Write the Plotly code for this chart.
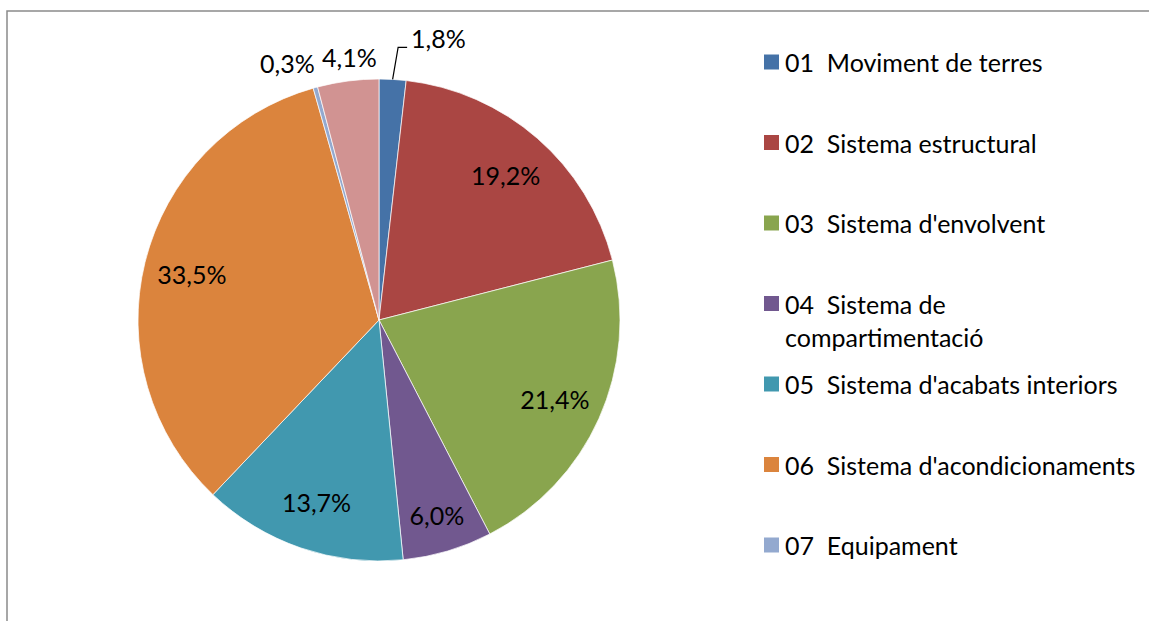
import math
import plotly.graph_objects as go

# ---- data ----
categories = [
    "01  Moviment de terres",
    "02  Sistema estructural",
    "03  Sistema d'envolvent",
    "04  Sistema de compartimentació",
    "05  Sistema d'acabats interiors",
    "06  Sistema d'acondicionaments",
    "07  Equipament",
    "08",
]
shares = [1.8, 19.2, 21.4, 6.0, 13.7, 33.5, 0.3, 4.1]
colors = ["#4572A7", "#AA4643", "#89A54E", "#71588F", "#4198AF",
          "#DB843D", "#93A9CF", "#D19392"]
legend_labels = [
    "01  Moviment de terres",
    "02  Sistema estructural",
    "03  Sistema d'envolvent",
    "04  Sistema de<br>compartimentació",
    "05  Sistema d'acabats interiors",
    "06  Sistema d'acondicionaments",
    "07  Equipament",
]
inside = [False, True, True, True, True, True, False, False]

# ---- layout / style ----
W, H = 1149, 621
FONT = "Lato, Calibri, Carlito, sans-serif"
FS = 25

cx, cy, R = 379, 320, 241          # pie centre and radius (pixels)
dom_x = [(cx - R) / W, (cx + R) / W]
dom_y = [1 - (cy + R) / H, 1 - (cy - R) / H]

# offsets (pixels, from the slice's rim midpoint) for labels placed outside the pie
outside_label_offset = {0: (16, -41), 6: (-28, -25), 7: (1, -24)}
leader_offsets = {0: [(0, 0), (5.5, -32), (14.5, -32)]}


def px(x):
    return x / W


def py(y):
    return 1 - y / H


fig = go.Figure()

# main pie
fig.add_trace(go.Pie(
    labels=categories, values=shares, sort=False, direction="clockwise",
    rotation=0, domain=dict(x=dom_x, y=dom_y),
    marker=dict(colors=colors, line=dict(color="rgba(255,255,255,0.7)", width=1)),
    textinfo="none",
    showlegend=False, hoverinfo="label+percent",
))

# transparent ring carrying the inside labels (near the rim, as Excel does)
fig.add_trace(go.Pie(
    labels=categories, values=shares, sort=False, direction="clockwise",
    rotation=0, domain=dict(x=dom_x, y=dom_y), hole=0.6,
    marker=dict(colors=["rgba(0,0,0,0)"] * len(shares), line=dict(width=0)),
    texttemplate="%{value:.1f}%",
    textposition=["inside" if i else "none" for i in inside],
    insidetextorientation="horizontal",
    insidetextfont=dict(family=FONT, size=FS, color="black"),
    showlegend=False, hoverinfo="skip",
))

shapes = []
annotations = []

# outside labels for the thin slices, anchored on each slice's rim midpoint
total = sum(shares)
cum = 0.0
for i, v in enumerate(shares):
    mid = (cum + v / 2) / total * 2 * math.pi
    cum += v
    if inside[i]:
        continue
    rx = cx + R * math.sin(mid)
    ry = cy - R * math.cos(mid)
    dx, dy = outside_label_offset[i]
    annotations.append(dict(xref="paper", yref="paper", x=px(rx + dx), y=py(ry + dy),
                            xanchor="left" if i in leader_offsets else "center",
                            yanchor="middle", showarrow=False,
                            text=f"{v:.1f}%".replace(".", ","),
                            font=dict(family=FONT, size=FS, color="black")))
    if i in leader_offsets:
        pts = [(rx + a, ry + b) for a, b in leader_offsets[i]]
        path = "M " + " L ".join(f"{px(x)},{py(y)}" for x, y in pts)
        shapes.append(dict(type="path", xref="paper", yref="paper", path=path,
                           line=dict(color="black", width=1.2)))

# manual legend (Excel-style spacing)
leg_x_box0, leg_x_box1, leg_x_text = 764, 779, 783
leg_y0, leg_dy = 62, 80.5
for i, lab in enumerate(legend_labels):
    yc = leg_y0 + i * leg_dy
    shapes.append(dict(type="rect", xref="paper", yref="paper",
                       x0=px(leg_x_box0), x1=px(leg_x_box1),
                       y0=py(yc + 7.5), y1=py(yc - 7.5),
                       fillcolor=colors[i], line=dict(width=0)))
    annotations.append(dict(xref="paper", yref="paper", x=px(leg_x_text),
                            y=py(yc - 17), xanchor="left", yanchor="top",
                            text=lab.replace("  ", "\u00a0 "), showarrow=False,
                            align="left",
                            font=dict(family=FONT, size=FS, color="black")))

# chart-area border (only top + left visible in the crop)
shapes.append(dict(type="rect", xref="paper", yref="paper",
                   x0=px(7), x1=1.05, y0=-0.05, y1=py(11),
                   line=dict(color="#8a8a8a", width=1.5), fillcolor="rgba(0,0,0,0)"))

fig.update_layout(
    width=W, height=H, margin=dict(l=0, r=0, t=0, b=0),
    paper_bgcolor="white", plot_bgcolor="white",
    separators=",.",
    shapes=shapes, annotations=annotations,
    font=dict(family=FONT, size=FS, color="black"),
)

fig.write_html("out.html", config={"displayModeBar": False},
               post_script="document.body.style.margin='0';document.body.style.overflow='hidden';")
